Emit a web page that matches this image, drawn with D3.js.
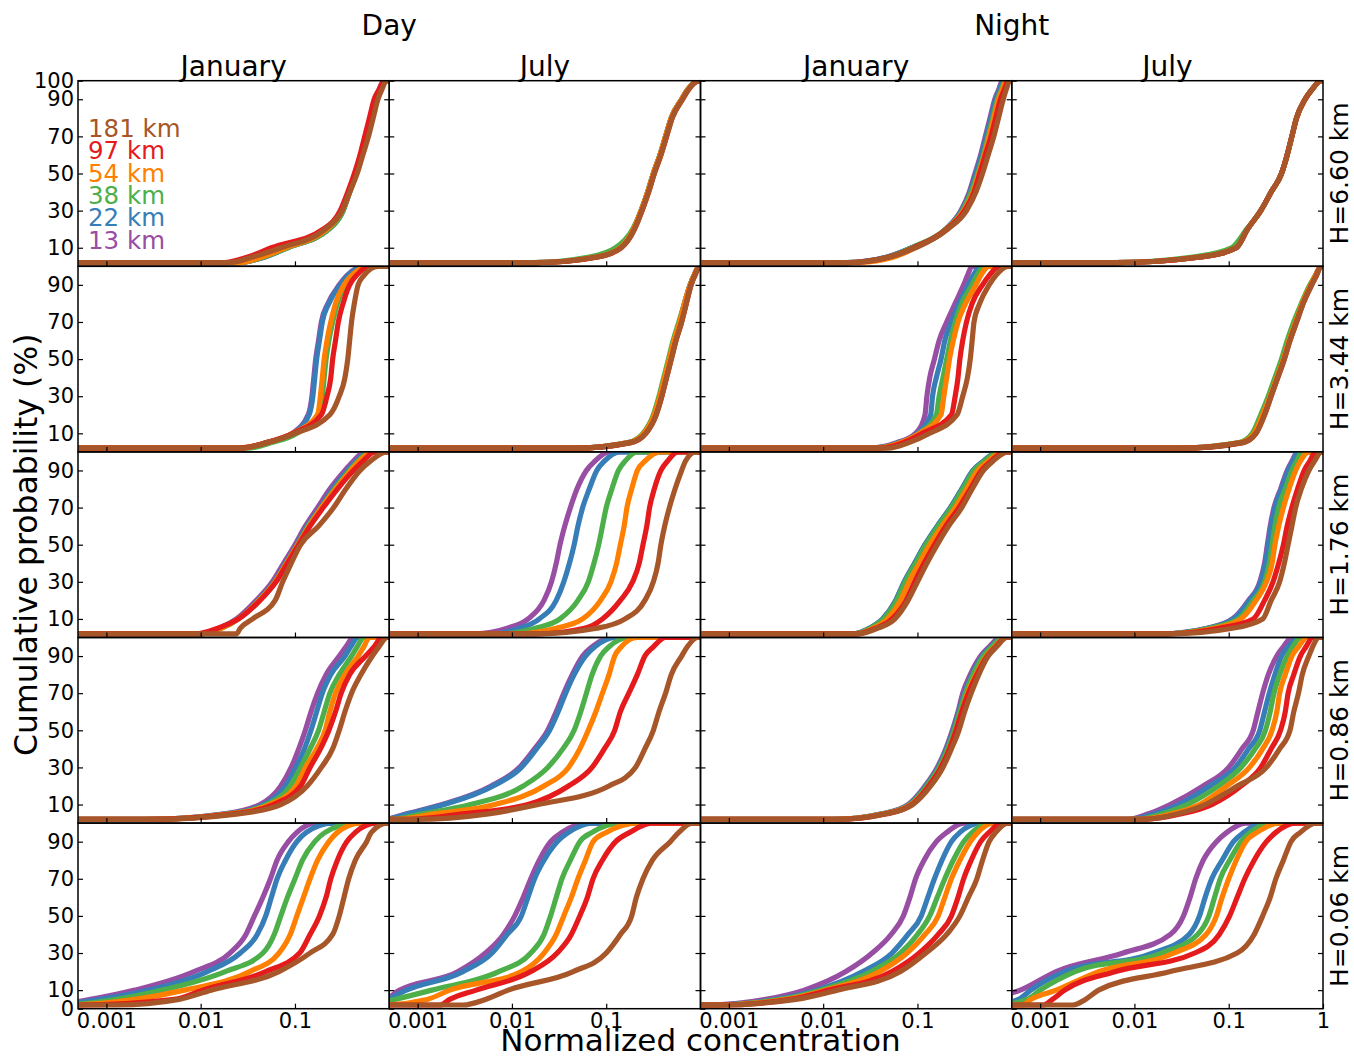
<!DOCTYPE html>
<html>
<head>
<meta charset="utf-8">
<script src="https://cdn.jsdelivr.net/npm/d3@7"></script>
<style>
  body { margin: 0; background: #fff; }
  text { font-family: "DejaVu Sans", sans-serif; }
</style>
</head>
<body>
<div id="chart"></div>
<script>
var periods = ["Day", "Night"];
var months = ["January", "July", "January", "July"];
var heights = ["H=6.60 km", "H=3.44 km", "H=1.76 km", "H=0.86 km", "H=0.06 km"];
var distances = ["181 km", "97 km", "54 km", "38 km", "22 km", "13 km"];
var colors = ["#a65628", "#e41a1c", "#ff7f00", "#4daf4a", "#377eb8", "#984ea3"];
// cumulative probability (%) at which each concentration below is read
var levels = [2, 5, 10, 20, 30, 40, 50, 60, 70, 80, 90, 95, 100];
var xTicks = [0.001, 0.01, 0.1];
var yTicks = [10, 30, 50, 70, 90];

// log10(normalized concentration) per panel [Day Jan, Day Jul, Night Jan, Night Jul],
// one row per distance in the order of `distances`
var cdfH660 = [
  [[-1.70,-1.45,-1.15,-0.68,-0.50,-0.42,-0.34,-0.28,-0.22,-0.17,-0.12,-0.08,-0.03],
   [-1.75,-1.50,-1.25,-0.70,-0.52,-0.44,-0.37,-0.31,-0.26,-0.21,-0.16,-0.11,-0.05],
   [-1.60,-1.35,-1.10,-0.66,-0.50,-0.42,-0.35,-0.29,-0.24,-0.19,-0.14,-0.10,-0.04],
   [-1.62,-1.33,-1.08,-0.64,-0.49,-0.42,-0.35,-0.29,-0.24,-0.19,-0.14,-0.10,-0.04],
   [-1.60,-1.32,-1.08,-0.64,-0.49,-0.42,-0.35,-0.29,-0.24,-0.19,-0.14,-0.10,-0.05],
   [-1.60,-1.32,-1.08,-0.64,-0.49,-0.42,-0.36,-0.30,-0.25,-0.20,-0.15,-0.11,-0.06]],
  [[-1.74,-1.09,-0.84,-0.70,-0.62,-0.55,-0.49,-0.42,-0.36,-0.30,-0.19,-0.13,-0.01],
   [-1.74,-1.09,-0.84,-0.70,-0.62,-0.55,-0.49,-0.42,-0.36,-0.30,-0.19,-0.13,-0.01],
   [-1.75,-1.10,-0.85,-0.71,-0.63,-0.56,-0.50,-0.43,-0.37,-0.31,-0.20,-0.14,-0.01],
   [-1.80,-1.18,-0.90,-0.72,-0.63,-0.56,-0.50,-0.43,-0.37,-0.31,-0.20,-0.14,-0.01],
   [-1.76,-1.12,-0.86,-0.71,-0.63,-0.56,-0.50,-0.43,-0.37,-0.31,-0.20,-0.14,-0.02],
   [-1.76,-1.12,-0.86,-0.71,-0.63,-0.56,-0.50,-0.43,-0.37,-0.31,-0.20,-0.14,-0.02]],
  [[-1.72,-1.30,-1.02,-0.68,-0.48,-0.38,-0.31,-0.25,-0.19,-0.14,-0.09,-0.06,-0.02],
   [-1.74,-1.30,-1.04,-0.69,-0.50,-0.40,-0.34,-0.28,-0.22,-0.17,-0.12,-0.08,-0.04],
   [-1.65,-1.25,-1.02,-0.69,-0.51,-0.41,-0.35,-0.29,-0.24,-0.19,-0.14,-0.10,-0.06],
   [-1.75,-1.30,-1.06,-0.70,-0.52,-0.43,-0.36,-0.30,-0.25,-0.20,-0.15,-0.11,-0.07],
   [-1.76,-1.32,-1.06,-0.70,-0.53,-0.44,-0.38,-0.32,-0.27,-0.22,-0.17,-0.13,-0.09],
   [-1.76,-1.32,-1.06,-0.70,-0.54,-0.45,-0.39,-0.33,-0.28,-0.23,-0.18,-0.14,-0.10]],
  [[-2.20,-1.30,-0.92,-0.80,-0.66,-0.55,-0.44,-0.38,-0.33,-0.28,-0.19,-0.12,-0.02],
   [-2.20,-1.30,-0.92,-0.80,-0.66,-0.55,-0.44,-0.38,-0.33,-0.28,-0.19,-0.12,-0.02],
   [-2.20,-1.30,-0.92,-0.80,-0.66,-0.55,-0.44,-0.38,-0.33,-0.28,-0.19,-0.12,-0.02],
   [-2.25,-1.38,-0.97,-0.81,-0.66,-0.55,-0.44,-0.38,-0.33,-0.28,-0.19,-0.12,-0.02],
   [-2.20,-1.30,-0.92,-0.80,-0.66,-0.55,-0.44,-0.38,-0.33,-0.28,-0.19,-0.12,-0.02],
   [-2.20,-1.30,-0.92,-0.80,-0.66,-0.55,-0.44,-0.38,-0.33,-0.28,-0.19,-0.12,-0.02]]
];

var cdfH344 = [
  [[-1.58,-1.30,-1.00,-0.63,-0.53,-0.47,-0.44,-0.42,-0.40,-0.37,-0.33,-0.27,-0.12],
   [-1.60,-1.30,-1.02,-0.72,-0.66,-0.62,-0.60,-0.57,-0.54,-0.49,-0.42,-0.35,-0.20],
   [-1.60,-1.30,-1.02,-0.76,-0.73,-0.71,-0.69,-0.66,-0.62,-0.57,-0.48,-0.40,-0.22],
   [-1.50,-1.25,-0.98,-0.76,-0.71,-0.69,-0.67,-0.64,-0.60,-0.55,-0.46,-0.38,-0.20],
   [-1.58,-1.30,-1.02,-0.85,-0.81,-0.79,-0.77,-0.74,-0.71,-0.64,-0.52,-0.44,-0.25],
   [-1.58,-1.30,-1.03,-0.86,-0.82,-0.80,-0.78,-0.75,-0.72,-0.65,-0.53,-0.45,-0.26]],
  [[-1.33,-0.74,-0.58,-0.47,-0.41,-0.36,-0.31,-0.26,-0.20,-0.15,-0.10,-0.06,-0.01],
   [-1.33,-0.74,-0.58,-0.47,-0.41,-0.36,-0.31,-0.26,-0.20,-0.15,-0.10,-0.06,-0.01],
   [-1.35,-0.76,-0.60,-0.49,-0.43,-0.38,-0.33,-0.28,-0.22,-0.17,-0.11,-0.07,-0.01],
   [-1.35,-0.77,-0.61,-0.50,-0.44,-0.39,-0.34,-0.29,-0.23,-0.17,-0.11,-0.07,-0.01],
   [-1.35,-0.76,-0.60,-0.49,-0.43,-0.38,-0.33,-0.28,-0.22,-0.17,-0.11,-0.07,-0.01],
   [-1.35,-0.76,-0.60,-0.49,-0.43,-0.38,-0.33,-0.28,-0.22,-0.17,-0.11,-0.07,-0.01]],
  [[-1.31,-1.09,-0.87,-0.58,-0.52,-0.47,-0.44,-0.42,-0.40,-0.34,-0.24,-0.17,-0.04],
   [-1.40,-1.15,-0.95,-0.64,-0.60,-0.57,-0.55,-0.52,-0.48,-0.42,-0.31,-0.24,-0.13],
   [-1.45,-1.18,-0.98,-0.75,-0.72,-0.69,-0.66,-0.62,-0.57,-0.49,-0.38,-0.33,-0.24],
   [-1.45,-1.18,-0.98,-0.80,-0.77,-0.73,-0.69,-0.65,-0.60,-0.53,-0.42,-0.37,-0.29],
   [-1.50,-1.20,-1.00,-0.86,-0.84,-0.80,-0.75,-0.71,-0.64,-0.56,-0.46,-0.41,-0.33],
   [-1.53,-1.22,-1.02,-0.92,-0.90,-0.87,-0.82,-0.77,-0.69,-0.60,-0.51,-0.47,-0.42]],
  [[-1.50,-0.85,-0.71,-0.62,-0.55,-0.48,-0.41,-0.35,-0.28,-0.21,-0.12,-0.07,-0.02],
   [-1.50,-0.85,-0.71,-0.62,-0.55,-0.48,-0.41,-0.35,-0.28,-0.21,-0.12,-0.07,-0.02],
   [-1.55,-0.87,-0.73,-0.64,-0.56,-0.49,-0.42,-0.36,-0.29,-0.22,-0.13,-0.08,-0.02],
   [-1.55,-0.89,-0.75,-0.66,-0.58,-0.51,-0.44,-0.38,-0.31,-0.23,-0.14,-0.08,-0.02],
   [-1.55,-0.87,-0.73,-0.64,-0.56,-0.49,-0.42,-0.36,-0.29,-0.22,-0.13,-0.08,-0.02],
   [-1.55,-0.87,-0.73,-0.64,-0.56,-0.49,-0.42,-0.36,-0.29,-0.22,-0.13,-0.08,-0.02]]
];

var cdfH176 = [
  [[-1.62,-1.58,-1.45,-1.21,-1.13,-1.04,-0.94,-0.75,-0.59,-0.46,-0.31,-0.20,-0.03],
   [-2.05,-1.82,-1.60,-1.37,-1.20,-1.08,-0.96,-0.84,-0.70,-0.55,-0.38,-0.28,-0.15],
   [-2.00,-1.78,-1.60,-1.38,-1.21,-1.09,-0.97,-0.85,-0.72,-0.57,-0.41,-0.32,-0.18],
   [-2.00,-1.78,-1.60,-1.38,-1.21,-1.09,-0.97,-0.86,-0.72,-0.58,-0.42,-0.33,-0.20],
   [-2.00,-1.78,-1.60,-1.39,-1.22,-1.10,-0.98,-0.87,-0.73,-0.60,-0.44,-0.35,-0.22],
   [-2.02,-1.80,-1.62,-1.41,-1.24,-1.12,-1.00,-0.89,-0.76,-0.63,-0.47,-0.38,-0.26]],
  [[-1.75,-1.10,-0.80,-0.59,-0.50,-0.45,-0.42,-0.38,-0.33,-0.27,-0.20,-0.16,-0.05],
   [-1.75,-1.23,-1.04,-0.85,-0.72,-0.65,-0.61,-0.57,-0.54,-0.49,-0.42,-0.35,-0.24],
   [-1.96,-1.53,-1.25,-1.06,-0.95,-0.89,-0.85,-0.81,-0.78,-0.73,-0.67,-0.59,-0.42],
   [-2.13,-1.75,-1.49,-1.30,-1.19,-1.13,-1.08,-1.04,-1.00,-0.94,-0.87,-0.80,-0.67],
   [-2.22,-1.92,-1.71,-1.53,-1.45,-1.39,-1.34,-1.30,-1.25,-1.18,-1.10,-1.02,-0.85],
   [-2.39,-2.05,-1.83,-1.66,-1.58,-1.53,-1.49,-1.44,-1.38,-1.31,-1.21,-1.12,-0.97]],
  [[-1.62,-1.42,-1.24,-1.10,-1.00,-0.90,-0.79,-0.67,-0.53,-0.42,-0.30,-0.20,-0.04],
   [-1.64,-1.44,-1.27,-1.12,-1.03,-0.93,-0.82,-0.70,-0.56,-0.44,-0.32,-0.22,-0.07],
   [-1.66,-1.47,-1.32,-1.18,-1.09,-0.98,-0.87,-0.74,-0.60,-0.48,-0.36,-0.25,-0.10],
   [-1.68,-1.50,-1.36,-1.22,-1.13,-1.02,-0.91,-0.78,-0.64,-0.52,-0.40,-0.29,-0.13],
   [-1.69,-1.51,-1.37,-1.23,-1.14,-1.03,-0.92,-0.79,-0.65,-0.53,-0.41,-0.30,-0.14],
   [-1.69,-1.51,-1.37,-1.23,-1.14,-1.03,-0.92,-0.79,-0.65,-0.53,-0.41,-0.30,-0.14]],
  [[-1.62,-0.96,-0.64,-0.55,-0.46,-0.41,-0.37,-0.33,-0.29,-0.23,-0.15,-0.09,-0.02],
   [-1.68,-1.10,-0.74,-0.62,-0.53,-0.47,-0.42,-0.38,-0.33,-0.27,-0.20,-0.14,-0.08],
   [-1.70,-1.15,-0.87,-0.71,-0.60,-0.54,-0.51,-0.47,-0.42,-0.36,-0.29,-0.24,-0.15],
   [-1.71,-1.20,-0.90,-0.74,-0.62,-0.57,-0.54,-0.51,-0.47,-0.40,-0.33,-0.28,-0.22],
   [-1.71,-1.22,-0.95,-0.78,-0.66,-0.61,-0.58,-0.55,-0.51,-0.44,-0.37,-0.32,-0.26],
   [-1.72,-1.23,-0.96,-0.79,-0.67,-0.62,-0.59,-0.56,-0.52,-0.45,-0.38,-0.33,-0.27]]
];

var cdfH086 = [
  [[-2.55,-1.60,-1.15,-0.87,-0.72,-0.60,-0.53,-0.47,-0.40,-0.30,-0.18,-0.11,-0.02],
   [-2.60,-1.65,-1.23,-0.94,-0.84,-0.73,-0.64,-0.57,-0.51,-0.42,-0.25,-0.16,-0.08],
   [-2.60,-1.68,-1.27,-0.99,-0.89,-0.77,-0.68,-0.63,-0.57,-0.47,-0.33,-0.27,-0.21],
   [-2.60,-1.70,-1.30,-1.05,-0.94,-0.84,-0.75,-0.69,-0.63,-0.53,-0.40,-0.34,-0.27],
   [-2.60,-1.72,-1.33,-1.10,-0.99,-0.90,-0.83,-0.77,-0.71,-0.62,-0.47,-0.41,-0.33],
   [-2.60,-1.75,-1.37,-1.15,-1.04,-0.96,-0.89,-0.83,-0.76,-0.67,-0.53,-0.46,-0.38]],
  [[-3.04,-2.25,-1.72,-0.97,-0.69,-0.59,-0.50,-0.44,-0.37,-0.31,-0.20,-0.14,-0.03],
   [-3.12,-2.52,-1.83,-1.40,-1.15,-1.02,-0.91,-0.85,-0.76,-0.67,-0.59,-0.50,-0.37],
   [-3.25,-2.82,-2.18,-1.66,-1.40,-1.28,-1.19,-1.11,-1.04,-0.97,-0.91,-0.84,-0.67],
   [-3.30,-2.95,-2.44,-1.88,-1.62,-1.46,-1.34,-1.27,-1.21,-1.15,-1.06,-0.97,-0.76],
   [-3.35,-3.10,-2.72,-2.20,-1.90,-1.74,-1.60,-1.51,-1.43,-1.34,-1.22,-1.12,-0.90],
   [-3.35,-3.12,-2.74,-2.22,-1.92,-1.76,-1.62,-1.53,-1.45,-1.36,-1.25,-1.15,-0.93]],
  [[-1.85,-1.33,-1.05,-0.86,-0.73,-0.64,-0.56,-0.50,-0.43,-0.35,-0.25,-0.16,-0.05],
   [-1.85,-1.33,-1.06,-0.88,-0.75,-0.66,-0.59,-0.53,-0.46,-0.37,-0.26,-0.17,-0.06],
   [-1.90,-1.35,-1.07,-0.88,-0.75,-0.66,-0.59,-0.53,-0.47,-0.38,-0.27,-0.18,-0.06],
   [-1.90,-1.36,-1.08,-0.90,-0.77,-0.68,-0.61,-0.55,-0.49,-0.41,-0.30,-0.21,-0.09],
   [-1.90,-1.37,-1.09,-0.91,-0.78,-0.69,-0.62,-0.56,-0.50,-0.42,-0.31,-0.22,-0.10],
   [-1.90,-1.38,-1.10,-0.92,-0.79,-0.70,-0.63,-0.57,-0.52,-0.44,-0.33,-0.24,-0.12]],
  [[-1.89,-1.54,-1.25,-0.91,-0.60,-0.46,-0.35,-0.31,-0.26,-0.22,-0.15,-0.11,-0.04],
   [-1.94,-1.50,-1.18,-0.87,-0.66,-0.55,-0.45,-0.40,-0.37,-0.31,-0.24,-0.18,-0.11],
   [-1.94,-1.60,-1.31,-1.02,-0.78,-0.64,-0.54,-0.49,-0.46,-0.40,-0.33,-0.26,-0.17],
   [-1.98,-1.70,-1.44,-1.11,-0.87,-0.72,-0.61,-0.56,-0.52,-0.46,-0.38,-0.32,-0.24],
   [-2.05,-1.78,-1.53,-1.20,-0.93,-0.79,-0.67,-0.62,-0.57,-0.51,-0.44,-0.37,-0.26],
   [-2.07,-1.85,-1.62,-1.27,-1.00,-0.86,-0.74,-0.69,-0.64,-0.58,-0.49,-0.42,-0.33]]
];

var cdfH006 = [
  [[-2.89,-2.23,-1.89,-1.17,-0.84,-0.60,-0.53,-0.48,-0.43,-0.36,-0.24,-0.19,-0.02],
   [-3.30,-2.28,-1.98,-1.31,-0.95,-0.84,-0.74,-0.67,-0.62,-0.55,-0.45,-0.36,-0.14],
   [-3.40,-2.70,-2.17,-1.48,-1.17,-1.05,-0.98,-0.91,-0.84,-0.76,-0.64,-0.55,-0.31],
   [-3.50,-2.89,-2.41,-1.74,-1.34,-1.22,-1.15,-1.08,-1.00,-0.92,-0.79,-0.68,-0.36],
   [-3.60,-3.07,-2.55,-1.93,-1.58,-1.40,-1.31,-1.25,-1.19,-1.10,-0.98,-0.88,-0.60],
   [-3.60,-3.17,-2.70,-2.07,-1.69,-1.52,-1.43,-1.34,-1.26,-1.19,-1.07,-0.98,-0.79]],
  [[-2.52,-2.28,-2.04,-1.35,-1.00,-0.85,-0.73,-0.68,-0.61,-0.51,-0.32,-0.23,-0.09],
   [-2.76,-2.66,-2.38,-1.80,-1.52,-1.37,-1.28,-1.20,-1.14,-1.04,-0.90,-0.75,-0.52],
   [-3.40,-2.90,-2.66,-1.90,-1.66,-1.53,-1.45,-1.37,-1.30,-1.22,-1.14,-1.00,-0.66],
   [-3.50,-3.24,-2.85,-2.14,-1.80,-1.66,-1.59,-1.53,-1.47,-1.38,-1.28,-1.15,-0.85],
   [-3.70,-3.33,-3.12,-2.52,-2.21,-2.05,-1.90,-1.83,-1.76,-1.66,-1.52,-1.40,-1.14],
   [-3.70,-3.35,-3.19,-2.57,-2.28,-2.09,-1.97,-1.88,-1.80,-1.71,-1.59,-1.47,-1.18]],
  [[-3.10,-2.29,-1.85,-1.18,-0.91,-0.69,-0.55,-0.46,-0.37,-0.31,-0.24,-0.17,-0.04],
   [-3.10,-2.35,-1.94,-1.27,-0.98,-0.78,-0.64,-0.57,-0.51,-0.43,-0.33,-0.24,-0.11],
   [-3.15,-2.40,-1.98,-1.40,-1.11,-0.92,-0.78,-0.71,-0.64,-0.55,-0.44,-0.36,-0.20],
   [-3.20,-2.45,-2.03,-1.49,-1.18,-1.00,-0.87,-0.79,-0.71,-0.62,-0.51,-0.42,-0.24],
   [-3.20,-2.50,-2.07,-1.58,-1.27,-1.10,-0.96,-0.89,-0.82,-0.74,-0.64,-0.55,-0.33],
   [-3.23,-2.61,-2.20,-1.76,-1.48,-1.28,-1.15,-1.08,-1.02,-0.93,-0.80,-0.69,-0.51]],
  [[-2.65,-2.52,-2.38,-1.62,-0.91,-0.73,-0.64,-0.56,-0.50,-0.42,-0.34,-0.24,-0.08],
   [-2.96,-2.87,-2.74,-2.20,-1.36,-1.10,-0.99,-0.91,-0.83,-0.73,-0.60,-0.50,-0.29],
   [-3.19,-3.10,-2.83,-2.38,-1.58,-1.24,-1.13,-1.07,-1.00,-0.92,-0.82,-0.70,-0.46],
   [-3.45,-3.14,-3.00,-2.63,-1.71,-1.33,-1.21,-1.15,-1.09,-0.99,-0.87,-0.77,-0.55],
   [-3.50,-3.23,-3.10,-2.74,-1.80,-1.42,-1.31,-1.25,-1.18,-1.07,-0.95,-0.84,-0.64],
   [-3.90,-3.60,-3.21,-2.83,-2.12,-1.62,-1.48,-1.41,-1.35,-1.27,-1.13,-1.02,-0.82]]
];

var rows = [cdfH660, cdfH344, cdfH176, cdfH086, cdfH006];

var svg = d3.select("#chart").append("svg")
  .attr("width", 1354)
  .attr("height", 1059);

var gridLeft = 78, gridTop = 80.7;
var panelW = 311.25, panelH = 185.6;

var x = d3.scaleLog().domain([5e-4, 1]).range([0, panelW]);
var y = d3.scaleLinear().domain([0, 100]).range([panelH, 0]);
var fmtX = d3.format("~g");

var line = d3.line()
  .x(function(d) { return x(Math.pow(10, d[0])); })
  .y(function(d) { return y(d[1]); })
  .curve(d3.curveMonotoneX);

svg.append("clipPath").attr("id", "clip")
  .append("rect").attr("width", panelW).attr("height", panelH);

function curvePoints(vals) {
  // flat at the lowest level off to the left, flat at 100% off to the right
  var pts = [[-4, levels[0]]];
  vals.forEach(function(v, i) { pts.push([v, levels[i]]); });
  pts.push([0.5, 100]);
  return pts;
}

function styleAxis(sel) {
  sel.select(".domain").remove();
  sel.attr("font-size", 21).attr("font-family", "DejaVu Sans");
  sel.selectAll("line").attr("stroke", "#000").attr("stroke-width", 1.2);
  sel.selectAll("text").attr("fill", "#000");
}

rows.forEach(function(row, r) {
  row.forEach(function(panel, c) {
    var g = svg.append("g")
      .attr("transform", "translate(" + (gridLeft + c * panelW) + "," + (gridTop + r * panelH) + ")");

    var curves = g.append("g").attr("clip-path", "url(#clip)");
    // draw nearest distance first so 181 km ends on top
    d3.range(panel.length - 1, -1, -1).forEach(function(k) {
      curves.append("path")
        .attr("d", line(curvePoints(panel[k])))
        .attr("fill", "none")
        .attr("stroke", colors[k])
        .attr("stroke-width", 5.2)
        .attr("stroke-linejoin", "round");
    });

    var yt = yTicks.slice();
    if (r === 0) yt.push(100);
    if (r === rows.length - 1) yt.unshift(0);

    g.append("g")
      .call(d3.axisLeft(y).tickValues(yt).tickSize(-5).tickSizeOuter(0).tickPadding(4)
        .tickFormat(c === 0 ? d3.format("d") : ""))
      .call(styleAxis);

    g.append("g")
      .attr("transform", "translate(" + panelW + ",0)")
      .call(d3.axisRight(y).tickValues(yTicks).tickSize(-5).tickSizeOuter(0).tickFormat(""))
      .call(styleAxis);

    var xt = xTicks.slice();
    if (r === rows.length - 1 && c === 3) xt.push(1);
    g.append("g")
      .attr("transform", "translate(0," + panelH + ")")
      .call(d3.axisBottom(x).tickValues(xt).tickSize(-5).tickSizeOuter(0).tickPadding(4)
        .tickFormat(r === rows.length - 1 ? fmtX : ""))
      .call(styleAxis);

    g.append("rect")
      .attr("width", panelW)
      .attr("height", panelH)
      .attr("fill", "none")
      .attr("stroke", "#000")
      .attr("stroke-width", 1.5);

    if (r === 0 && c === 0) {
      distances.forEach(function(name, k) {
        g.append("text")
          .attr("x", 10)
          .attr("y", 56.5 + k * 22.3)
          .attr("fill", colors[k])
          .style("font-size", "24.5px")
          .text(name);
      });
    }
  });
});

// column headers
periods.forEach(function(p, i) {
  svg.append("text")
    .attr("x", gridLeft + (2 * i + 1) * panelW)
    .attr("y", 35)
    .attr("text-anchor", "middle")
    .style("font-size", "28px")
    .text(p);
});
months.forEach(function(m, c) {
  svg.append("text")
    .attr("x", gridLeft + (c + 0.5) * panelW)
    .attr("y", 76)
    .attr("text-anchor", "middle")
    .style("font-size", "28px")
    .text(m);
});

// row labels on the right
heights.forEach(function(h, r) {
  svg.append("text")
    .attr("transform", "translate(1348," + (gridTop + (r + 0.5) * panelH) + ") rotate(-90)")
    .attr("text-anchor", "middle")
    .style("font-size", "25px")
    .text(h);
});

svg.append("text")
  .attr("transform", "translate(37," + (gridTop + 2.5 * panelH) + ") rotate(-90)")
  .attr("text-anchor", "middle")
  .style("font-size", "31.5px")
  .text("Cumulative probability (%)");

svg.append("text")
  .attr("x", gridLeft + 2 * panelW)
  .attr("y", 1051)
  .attr("text-anchor", "middle")
  .style("font-size", "31px")
  .text("Normalized concentration");
</script>
</body>
</html>
